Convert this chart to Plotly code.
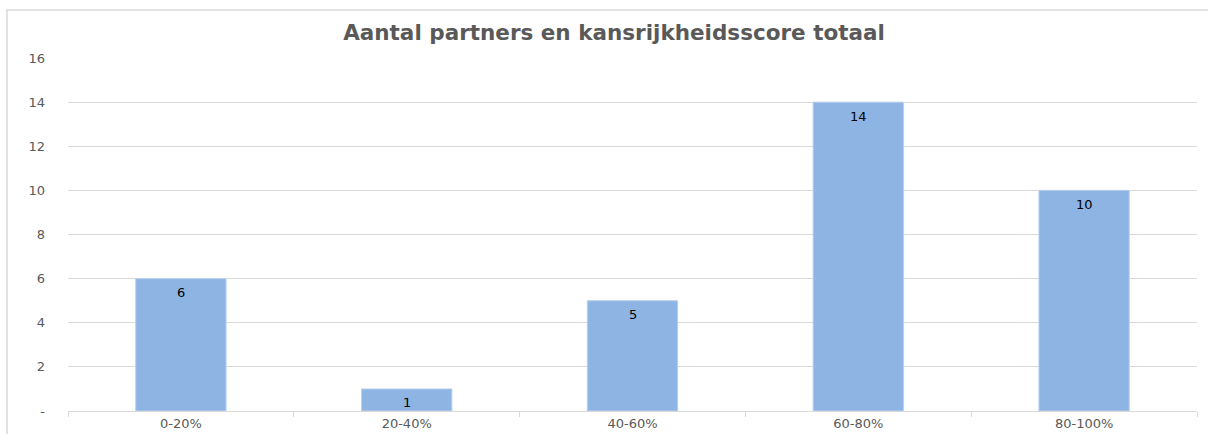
import plotly.graph_objects as go

categories = ["0-20%", "20-40%", "40-60%", "60-80%", "80-100%"]
values = [6, 1, 5, 14, 10]
y_tickvals = [0, 2, 4, 6, 8, 10, 12, 14, 16]
y_ticktext = ["-", "2", "4", "6", "8", "10", "12", "14", "16"]
title = "Aantal partners en kansrijkheidsscore totaal"

FONT = "DejaVu Sans, Verdana, sans-serif"

fig = go.Figure(go.Bar(
    x=categories, y=values, width=0.4,
    marker=dict(color="#8EB4E3", line=dict(color="#B8D0EE", width=1)),
    hoverinfo="x+y",
))

for c, v in zip(categories, values):
    fig.add_annotation(x=c, y=v, text=str(v), showarrow=False,
                       yanchor="middle", yshift=-14,
                       font=dict(family=FONT, size=13, color="#000000"))

W, H = 1208, 434
l, r, t, b = 68, 11, 58, 23
pw, ph = W - l - r, H - t - b

def px(x): return (x - l) / pw
def py(y): return (H - b - y) / ph

fig.update_layout(
    width=W, height=H,
    margin=dict(l=l, r=r, t=t, b=b, autoexpand=False),
    paper_bgcolor="white", plot_bgcolor="white",
    showlegend=False, bargap=0.6,
    font=dict(family=FONT, color="#595959", size=12),
    title=dict(text="<b>" + title + "</b>", x=614 / W, xanchor="center",
               y=1 - 32 / H, yanchor="middle",
               font=dict(size=21.5, color="#595959", family=FONT)),
    xaxis=dict(showgrid=False, showline=True, linecolor="#D9D9D9", linewidth=1,
               ticks="outside", tickson="boundaries", ticklen=5, tickcolor="#D9D9D9",
               automargin=False,
               tickfont=dict(size=13, color="#595959")),
    yaxis=dict(range=[0, 16], tickvals=y_tickvals, ticktext=y_ticktext,
               showgrid=True, gridcolor="#D9D9D9", gridwidth=1, zeroline=False,
               showline=False, ticks="", ticklabelstandoff=22, automargin=False,
               tickfont=dict(size=13, color="#595959")),
    shapes=[dict(type="rect", xref="paper", yref="paper",
                 x0=px(7), x1=px(1214), y0=py(440), y1=py(10),
                 line=dict(color="#D9D9D9", width=1.5), fillcolor="rgba(0,0,0,0)",
                 layer="below")],
)

fig.write_html(
    "out.html",
    config={"displayModeBar": False},
    post_script="document.body.style.margin='0';document.body.style.overflow='hidden';",
)
